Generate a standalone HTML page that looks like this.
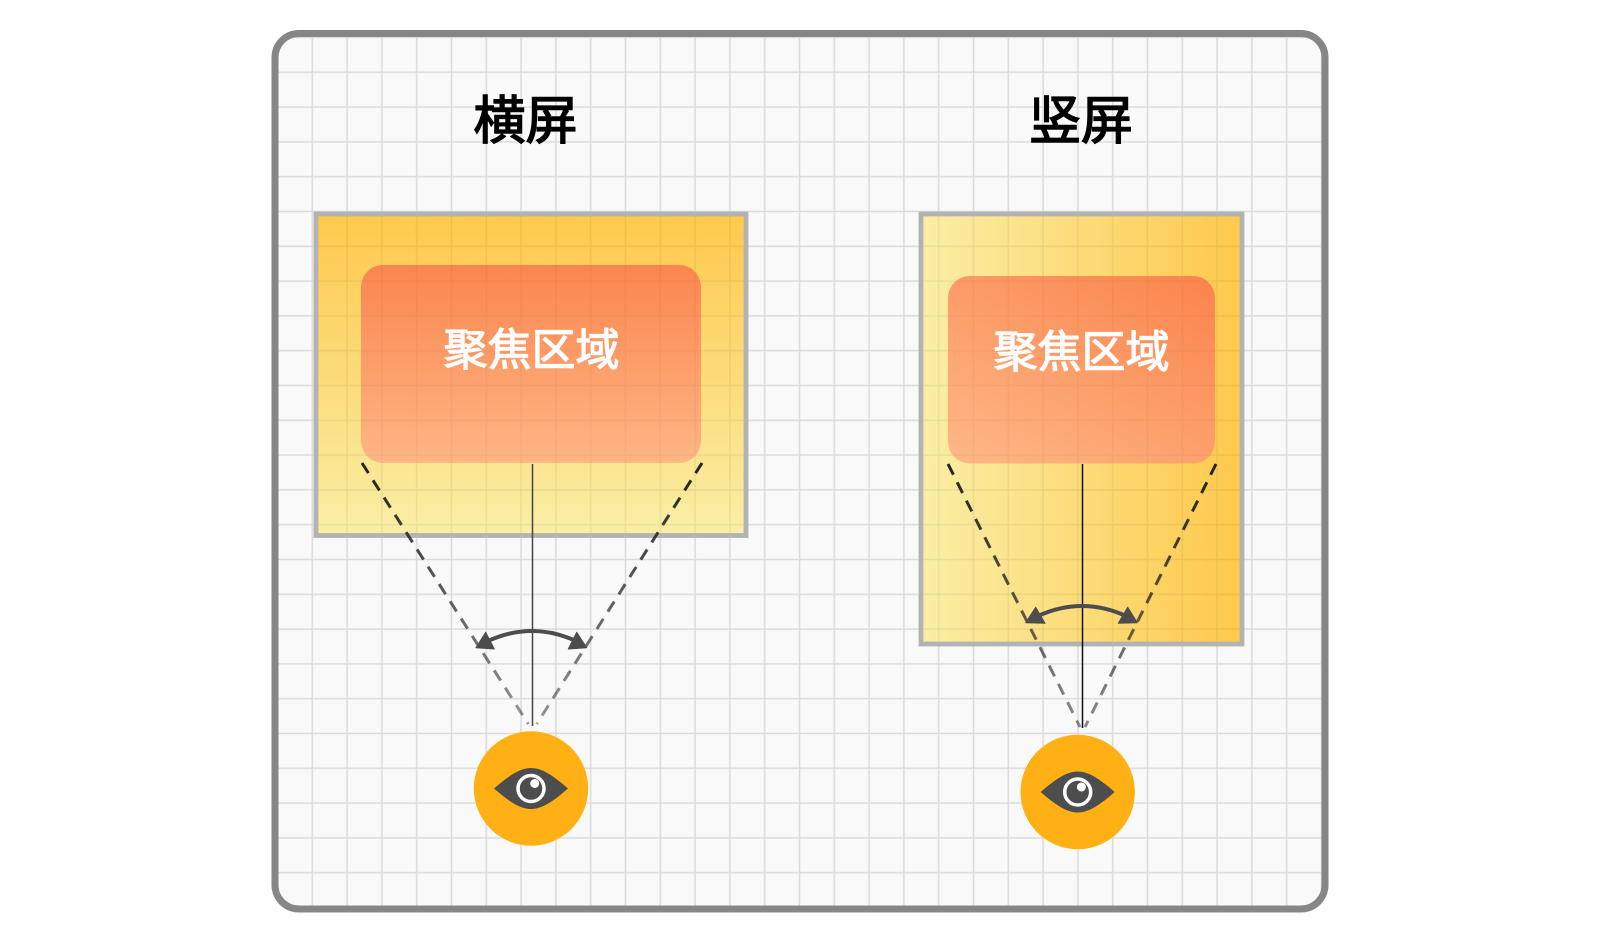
<!DOCTYPE html>
<html><head><meta charset="utf-8"><style>
html,body{margin:0;padding:0;background:#fff;width:1600px;height:944px;overflow:hidden}
svg{display:block}
text{font-family:"Liberation Sans","Noto Sans CJK SC",sans-serif;font-weight:400;text-anchor:middle}
</style></head><body>
<svg width="1600" height="944" viewBox="0 0 1600 944" xmlns="http://www.w3.org/2000/svg">
<defs>
<linearGradient id="a" x1="0" y1="0" x2="0" y2="1"><stop offset="0" stop-color="#fec94c"/><stop offset="1" stop-color="#faeea6"/></linearGradient>
<linearGradient id="b" x1="1" y1="0" x2="0" y2="0"><stop offset="0" stop-color="#fec94c"/><stop offset="1" stop-color="#faeea6"/></linearGradient>
<linearGradient id="c" x1="0" y1="0" x2="0" y2="1"><stop offset="0" stop-color="#fc854f"/><stop offset="1" stop-color="#fdb684"/></linearGradient>
<linearGradient id="d" x1="0.9" y1="0" x2="0.1" y2="1"><stop offset="0" stop-color="#fc854f"/><stop offset="1" stop-color="#fdb684"/></linearGradient>
<linearGradient id="l1" gradientUnits="userSpaceOnUse" x1="0" y1="463" x2="0" y2="730"><stop offset="0" stop-color="#222"/><stop offset="1" stop-color="#222" stop-opacity=".45"/></linearGradient>
<linearGradient id="l2" gradientUnits="userSpaceOnUse" x1="0" y1="463" x2="0" y2="735"><stop offset="0" stop-color="#222"/><stop offset="1" stop-color="#222" stop-opacity=".5"/></linearGradient>
<pattern id="g" patternUnits="userSpaceOnUse" x="311.300" y="71.300" width="34.800" height="34.800"><path d="M1 0V34.800M0 1H34.800" stroke="#000" stroke-opacity=".12" stroke-width="1.500" fill="none"/></pattern>
<pattern id="g2" patternUnits="userSpaceOnUse" x="311.300" y="71.300" width="34.800" height="34.800"><path d="M1 0V34.800M0 1H34.800" stroke="#000" stroke-opacity=".06" stroke-width="1.500" fill="none"/></pattern>
<pattern id="g3" patternUnits="userSpaceOnUse" x="311.300" y="71.300" width="34.800" height="34.800"><path d="M1 0V34.800M0 1H34.800" stroke="#000" stroke-opacity=".03" stroke-width="1.500" fill="none"/></pattern>
<clipPath id="f"><rect x="275" y="33.500" width="1050" height="875.500" rx="24"/></clipPath>
<g id="eye">
<circle cx="0" cy="0" r="57.200" fill="#ffb014"/>
<path d="M-37 0C-22 -13 -11 -20.500 0 -20.500C11 -20.500 22 -13 37 0C22 13 11 20.500 0 20.500C-11 20.500 -22 13 -37 0Z" fill="#4d4d4d"/>
<circle cx="0" cy="0" r="13" fill="#4d4d4d" stroke="#fff" stroke-width="3.500"/>
<circle cx="3.700" cy="-5" r="4.500" fill="#fff"/>
</g>
</defs>
<rect x="275" y="33.500" width="1050" height="875.500" rx="24" fill="#f9f9f9"/>
<rect x="275" y="33.500" width="1050" height="875.500" fill="url(#g)" clip-path="url(#f)"/>
<rect x="316" y="214" width="430" height="321.500" fill="url(#a)"/>
<rect x="921" y="214" width="321" height="430" fill="url(#b)"/>
<rect x="316" y="214" width="430" height="321.500" fill="url(#g2)"/>
<rect x="921" y="214" width="321" height="430" fill="url(#g2)"/>
<rect x="361" y="265" width="340" height="198" rx="22" fill="url(#c)"/>
<rect x="361" y="265" width="340" height="198" rx="22" fill="url(#g3)"/>
<rect x="948" y="276" width="267" height="187.500" rx="22" fill="url(#d)"/>
<rect x="948" y="276" width="267" height="187.500" rx="22" fill="url(#g3)"/>
<rect x="316" y="214" width="430" height="321.500" fill="none" stroke="#b3b3b3" stroke-width="4.800"/>
<rect x="921" y="214" width="321" height="430" fill="none" stroke="#b3b3b3" stroke-width="4.800"/>
<rect x="275" y="33.500" width="1050" height="875.500" rx="24" fill="none" stroke="#868686" stroke-width="7"/>
<text x="525.500" y="139" font-size="52" fill="#000" stroke="#000" stroke-width="1.500">横屏</text>
<text x="1081" y="139" font-size="52" fill="#000" stroke="#000" stroke-width="1.500">竖屏</text>
<text x="531.500" y="365" font-size="44" fill="#fff" stroke="#fff" stroke-width="1.200">聚焦区域</text>
<text x="1081.500" y="367" font-size="44" fill="#fff" stroke="#fff" stroke-width="1.200">聚焦区域</text>
<g fill="none" stroke-width="3" stroke-dasharray="12 8.500">
<path d="M362 463L528.300 724" stroke="url(#l1)"/>
<path d="M702 463L536.700 724" stroke="url(#l1)"/>
<path d="M948 464L1080 727" stroke="url(#l2)"/>
<path d="M1216 464L1085 727" stroke="url(#l2)"/>
</g>
<path d="M532.500 464V726" stroke="#444" stroke-width="1.500"/>
<path d="M1082.500 464V728" stroke="#111" stroke-width="1.500"/>
<g fill="none" stroke="#4d4d4d" stroke-width="4">
<path d="M488 641Q532 621 576 641"/>
<path d="M1038 616Q1082 596 1126 616"/>
</g>
<g fill="#4d4d4d" stroke="#4d4d4d" stroke-width="1" stroke-linejoin="round">
<path d="M476 647.700L485.700 632.300L494.300 649Z"/>
<path d="M586.700 647.700L576.700 632.300L568.300 649Z"/>
<path d="M1025.700 622.700L1035.700 607.300L1045 623.300Z"/>
<path d="M1137.300 622.700L1127.700 607.300L1118.300 623.300Z"/>
</g>
<use href="#eye" x="531" y="788.500"/>
<use href="#eye" x="1077.700" y="792"/>
</svg>
</body></html>
